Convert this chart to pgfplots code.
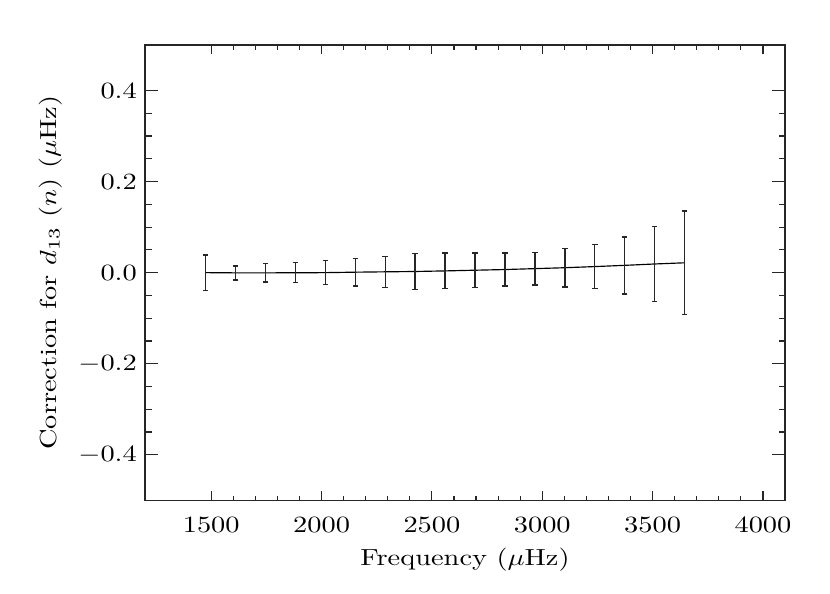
\documentclass[border=0pt]{standalone}
\usepackage{graphicx}
\usepackage{pgfplots}
\pgfplotsset{compat=1.18}
\pgfplotstableread{
x y e
1475.0 0.0000 0.039
1610.6 -0.0005 0.0155
1746.2 -0.0005 0.020
1881.8 -0.0003 0.022
2017.4 0.0000 0.026
2153.0 0.0010 0.030
2288.6 0.0018 0.034
2424.2 0.0025 0.039
2559.8 0.0038 0.039
2695.4 0.0053 0.038
2831.0 0.0068 0.036
2966.6 0.0088 0.036
3102.2 0.0108 0.042
3237.8 0.0133 0.048
3373.4 0.0160 0.0625
3509.0 0.0190 0.082
3644.6 0.0216 0.114
}\datatable
\begin{document}
\begin{tikzpicture}
\begin{axis}[
  scale only axis, width=275pt, height=195.6pt,
  xmin=1200, xmax=4100, ymin=-0.5, ymax=0.5,
  xtick={1500,2000,...,4000}, minor x tick num=4,
  ytick={-0.4,-0.2,0,0.2,0.4}, minor y tick num=3,
  tick align=inside, tick pos=both,
  xtick style={/pgfplots/major tick length=3.9pt,/pgfplots/minor tick length=2pt},
  ytick style={/pgfplots/major tick length=5.5pt,/pgfplots/minor tick length=2.8pt},
  x tick label style={/pgf/number format/1000 sep={}, yshift=-4pt},
  y tick label style={/pgf/number format/.cd, fixed, fixed zerofill, precision=1},
  xticklabel={\scalebox{1.22}[1]{$\pgfmathprintnumber{\tick}$}},
  yticklabel={\scalebox{1.22}[1]{$\pgfmathprintnumber{\tick}$}},
  xlabel={\scalebox{1.22}[1]{Frequency ($\mu$Hz)}},
  ylabel={\scalebox{1.22}[1]{Correction for $d_{13}$ $(n)$ ($\mu$Hz)}},
  xlabel style={at={(axis description cs:0.5,-0.13)}, anchor=center},
  ylabel style={at={(axis description cs:-0.148,0.5)}, anchor=center},
  axis line style={line width=0.5pt, black!85},
  tick style={black!85, line width=0.5pt},
]
\addplot[black, line width=0.5pt, mark=none,
  error bars/.cd, y dir=both, y explicit,
  error bar style={line width=0.6pt, black!85},
  error mark options={rotate=90, mark size=1.2pt, line width=0.6pt, black!85}]
  table[x=x, y=y, y error=e] {\datatable};
\coordinate (bl) at (rel axis cs:-0.2266,-0.2044);
\coordinate (tr) at (rel axis cs:1.0703,1.0989);
\end{axis}
\path (bl) rectangle (tr);
\end{tikzpicture}
\end{document}
